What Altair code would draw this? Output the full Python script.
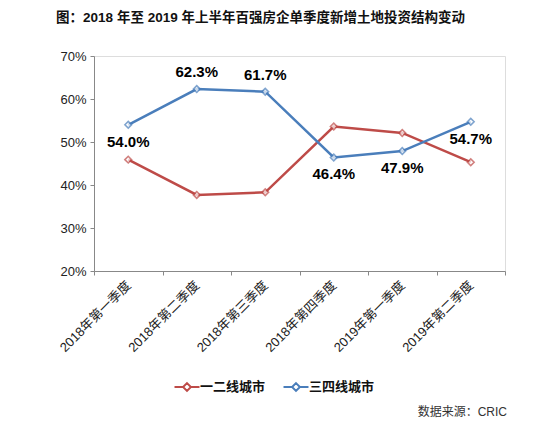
import altair as alt
import pandas as pd

quarters = ["2018年第一季度", "2018年第二季度", "2018年第三季度", "2018年第四季度", "2019年第一季度", "2019年第二季度"]
tier12 = [45.9, 37.7, 38.3, 53.6, 52.1, 45.3]
tier34 = [54.0, 62.3, 61.7, 46.4, 47.9, 54.7]
series_names = ["一二线城市", "三四线城市"]
above_labels = ["2018年第二季度", "2018年第三季度"]

rows = []
for q, a, b in zip(quarters, tier12, tier34):
    rows.append({"q": q, "series": series_names[0], "v": a})
    rows.append({"q": q, "series": series_names[1], "v": b})
df = pd.DataFrame(rows)

FONT = "Liberation Sans, Noto Sans CJK SC, sans-serif"
colors = ["#BE4B48", "#4A7EBB"]

x = alt.X("q:N", sort=quarters, title=None,
          axis=alt.Axis(labelAngle=-45, labelAlign="right", labelBaseline="middle",
                        labelFontSize=13, labelColor="#222", labelFont=FONT,
                        domainColor="#888", tickColor="#888", tickSize=4,
                        tickBand="extent", labelPadding=8))
y = alt.Y("v:Q", title=None, scale=alt.Scale(domain=[20, 70]),
          axis=alt.Axis(values=[20, 30, 40, 50, 60, 70], labelExpr="datum.value + '%'",
                        labelFontSize=13, labelColor="#222", labelFont=FONT,
                        domainColor="#888", tickColor="#888", tickSize=4, grid=False,
                        labelPadding=4))
color = alt.Color("series:N", sort=series_names,
                  scale=alt.Scale(domain=series_names, range=colors),
                  legend=alt.Legend(title=None, orient="none", legendX=84, legendY=322,
                                    direction="horizontal",
                                    symbolType="M-1.6,0H-0.5M0.5,0H1.6M0,-0.5L0.5,0L0,0.5L-0.5,0Z",
                                    symbolSize=244, symbolStrokeWidth=2, symbolFillColor="white",
                                    labelFontSize=13, labelFontWeight="bold", labelFont=FONT,
                                    labelColor="#111", labelOffset=4, columnPadding=13))

base = alt.Chart(df)
lines = base.mark_line(strokeWidth=2.5).encode(x=x, y=y, color=color)
points = base.mark_point(shape="diamond", filled=True, fill="white", size=45, strokeWidth=1.6).encode(
    x=x, y=y, stroke=alt.Color("series:N", scale=alt.Scale(domain=series_names, range=colors), legend=None))

blue = base.transform_filter(alt.datum.series == series_names[1]).transform_calculate(
    lab="format(datum.v, '.1f') + '%'")
lab_above = blue.transform_filter(alt.FieldOneOfPredicate(field="q", oneOf=above_labels)).mark_text(
    fontSize=15, fontWeight="bold", font=FONT, color="#000", dy=-17).encode(x=x, y=y, text="lab:N")
lab_below = blue.transform_filter(~alt.FieldOneOfPredicate(field="q", oneOf=above_labels)).mark_text(
    fontSize=15, fontWeight="bold", font=FONT, color="#000", dy=17).encode(x=x, y=y, text="lab:N")

source = alt.Chart(pd.DataFrame({"t": ["数据来源：CRIC"]})).mark_text(
    align="right", baseline="middle", fontSize=12, font=FONT, color="#333").encode(
    x=alt.value(413), y=alt.value(356), text="t:N")

chart = alt.layer(lines, points, lab_above, lab_below, source).properties(
    width=411, height=215,
    autosize=alt.AutoSizeParams(type="none"),
    padding={"left": 86, "top": 48, "right": 40, "bottom": 170},
    title=alt.TitleParams("图：2018 年至 2019 年上半年百强房企单季度新增土地投资结构变动",
                          fontSize=13.5, fontWeight="bold", font=FONT, color="#111",
                          anchor="middle", dx=-39, offset=26)
).configure_view(stroke=None).configure(background="white")

chart.save("out.html", embed_options={"renderer": "svg", "actions": False})
